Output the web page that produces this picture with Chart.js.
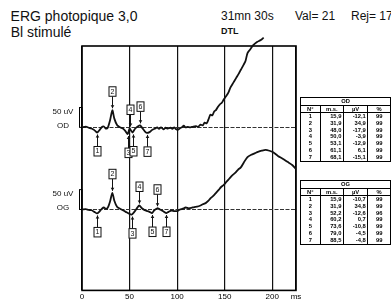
<!DOCTYPE html>
<html><head><meta charset="utf-8">
<script src="https://cdn.jsdelivr.net/npm/chart.js"></script>
<style>
html,body{margin:0;padding:0;background:#fff;}
body{width:391px;height:305px;position:relative;overflow:hidden;font-family:"Liberation Sans",Arial,sans-serif;color:#111;}
.tx{position:absolute;white-space:nowrap;line-height:1;}
canvas{position:absolute;left:0;top:0;}
table.t{position:absolute;border-collapse:collapse;table-layout:fixed;font:bold 5.8px "Liberation Sans",Arial,sans-serif;color:#000;border:1.5px solid #000;}
table.t td{padding:0 1.5px;height:6.8px;line-height:6.8px;overflow:hidden;white-space:nowrap;border-left:1px solid #000;border-right:1px solid #000;text-align:right;}
table.t tr.h td{border-bottom:1.2px solid #000;text-align:center;height:6.5px;line-height:6.5px;}
table.t td.c{text-align:center;}
</style></head>
<body>
<div class="tx" style="left:10.6px;top:9px;font-size:14px;">ERG photopique 3,0</div>
<div class="tx" style="left:10.7px;top:25px;font-size:14px;">Bl stimulé</div>
<div class="tx" style="left:221px;top:10px;font-size:12px;">31mn 30s</div>
<div class="tx" style="left:295px;top:10px;font-size:12px;">Val= 21</div>
<div class="tx" style="left:351px;top:10px;font-size:12px;">Rej= 17</div>
<div class="tx" style="left:221px;top:27.4px;font-size:9px;font-weight:bold;">DTL</div>
<canvas id="c" width="391" height="305"></canvas>
<table class="t" id="tOD" style="left:300px;top:97px;"></table>
<table class="t" id="tOG" style="left:300px;top:180px;"></table>
<script>
// ---- data ----
const xTickValues = [0, 50, 100, 150, 200, 225];
const xTickLabels = ['0', '50', '100', '150', '200', 'ms'];

const odMs = [0,4,7,10,13,15.9,18,21,23,25,27,29.5,31.9,34,37,40,43,45.5,48,50,51.5,53.1,56,59,61.1,63.5,66,68.1,71,74,77,79,81,83,86,88,90,93,95,97,99,101,103,105,107,109,111,114,117,120,122,124.6,127,129,131,133,135,137,139,141,143,145,147,149,152,154,156,159,162,165,167,170,172,174,177,180,184,188,191];
const odUv = [0,2,-1,-3,-7,-13,-8,1,2,-3,-1,18,43,22,5,0,-3,-9,-17,-3,-8,-13,-3,3,5,-2,-10,-14,-12,-6,-3,0,-4,0,-5,-1,-3,-1,-4,0,-5,-6,-2,0,4,0,1,0,2,3,1,7,5,12,10,20,32,30,40,44,52,58,62,70,80,88,100,112,124,136,145,158,168,187,197,207,215,220,226];

const ogMs = [0,4,7,10,13,15.9,18,21,23,25,27,29.5,31.9,34,37,40,43,46,49,52.2,55,58,60.2,63,66,69,71,73.6,76,79,82,85,88.5,91,94,97,100,103,106,109,112,115,118,121,124.6,127,130,133,135,138,141,144,146,149,152,155,158,161,164,167,170,174,178,182,185,189,193,197,201,206,211,216,221,225];
const ogUv = [0,1,-1,-2,-6,-10,-6,2,5,2,4,20,42,22,6,2,-2,-6,-10,-13,-6,4,10,3,-2,-4,-6,-9,-2,3,0,-4,-9,-6,-3,-4,-4,0,2,5,3,4,6,7,10,13,16,22,28,34,42,50,56,62,70,78,86,92,100,106,118,132,138,142,145,148,150,148,144,135,128,120,112,102];

const markNum = [1, 2, 3, 4, 5, 6, 7];
const odMarkMs = [15.9, 31.9, 48.0, 50.0, 53.1, 61.1, 68.1];
const odMarkUv = [-13, 43, -17, -3, -13, 5, -14];
const ogMarkMs = [15.9, 31.9, 52.2, 60.2, 73.6, 79.0, 88.5];
const ogMarkUv = [-10, 42, -13, 10, -9, 3, -9];

const odTabMs = [15.9, 31.9, 48.0, 50.0, 53.1, 61.1, 68.1];
const odTabUv = [-12.1, 34.9, -17.9, -3.9, -12.9, 6.1, -15.1];
const odTabPct = [99, 99, 99, 99, 99, 99, 99];
const ogTabMs = [15.9, 31.9, 52.2, 60.2, 73.6, 79.0, 88.5];
const ogTabUv = [-10.7, 34.8, -12.6, 0.7, -10.8, -4.5, -4.8];
const ogTabPct = [99, 99, 96, 99, 99, 99, 99];

const scaleBarUv = 50;
const odAxis = {min: -411, max: 205};
const ogAxis = {min: -204, max: 412};

// ---- tables ----
const fmt = v => v.toFixed(1).replace('.', ',');
function buildTable(id, title, ms, uv, pct) {
  const t = document.getElementById(id);
  let h = '<colgroup><col style="width:23px"><col style="width:26px"><col style="width:27px"><col style="width:27px"></colgroup>';
  h += '<tr class="h"><td colspan="4">' + title + '</td></tr>';
  h += '<tr class="h"><td>N°</td><td>m.s.</td><td>µV</td><td>%</td></tr>';
  ms.forEach((m, i) => {
    h += '<tr><td class="c">' + markNum[i] + '</td><td>' + fmt(m) + '</td><td>' + fmt(uv[i]) + '</td><td class="c">' + pct[i] + '</td></tr>';
  });
  t.innerHTML = h;
}
buildTable('tOD', 'OD', odTabMs, odTabUv, odTabPct);
buildTable('tOG', 'OG', ogTabMs, ogTabUv, ogTabPct);

// ---- plugins ----
const decor = {
  id: 'decor',
  beforeDatasetsDraw(chart) {
    const ctx = chart.ctx, a = chart.chartArea;
    ctx.save();
    ctx.strokeStyle = '#333'; ctx.lineWidth = 1; ctx.setLineDash([4, 1.5]);
    ['yOD', 'yOG'].forEach(id => {
      const y = Math.round(chart.scales[id].getPixelForValue(0)) + 0.5;
      ctx.beginPath(); ctx.moveTo(a.left, y); ctx.lineTo(a.right, y); ctx.stroke();
    });
    ctx.setLineDash([]);
    ctx.strokeStyle = '#000'; ctx.lineWidth = 1.6;
    ctx.strokeRect(a.left, a.top, a.right - a.left, a.bottom - a.top);
    ctx.fillStyle = '#111'; ctx.font = '8px "Liberation Sans", Arial, sans-serif';
    ctx.textAlign = 'center'; ctx.textBaseline = 'middle';
    [['yOD', 'OD'], ['yOG', 'OG']].forEach(([id, name]) => {
      const s = chart.scales[id];
      const y0 = s.getPixelForValue(0), y1 = s.getPixelForValue(scaleBarUv);
      ctx.lineWidth = 1;
      ctx.strokeRect(79.5, y1, a.left - 79.5, y0 - y1);
      ctx.fillText(scaleBarUv + ' uV', 63, y1 + 4);
      ctx.fillText(name, 63, y0 - 1.5);
    });
    ctx.restore();
  },
  afterDatasetsDraw(chart) {
    const ctx = chart.ctx, xs = chart.scales.x;
    ctx.save();
    ctx.strokeStyle = '#111'; ctx.fillStyle = '#111'; ctx.lineWidth = 1;
    ctx.font = '7px "Liberation Sans", Arial, sans-serif';
    ctx.textAlign = 'center'; ctx.textBaseline = 'middle';
    [[odMarkMs, odMarkUv, 'yOD'], [ogMarkMs, ogMarkUv, 'yOG']].forEach(([ms, uv, id]) => {
      const ys = chart.scales[id];
      ms.forEach((m, i) => {
        const px = Math.round(xs.getPixelForValue(m)) + 0.5;
        const py = ys.getPixelForValue(uv[i]);
        const up = markNum[i] % 2 === 0;
        const dir = up ? -1 : 1;
        const tip = py + dir * 2, base = py + dir * 14;
        ctx.beginPath(); ctx.moveTo(px, base); ctx.lineTo(px, tip); ctx.stroke();
        ctx.beginPath(); ctx.moveTo(px, tip); ctx.lineTo(px - 1.8, tip + dir * 3); ctx.lineTo(px + 1.8, tip + dir * 3); ctx.closePath(); ctx.fill();
        const bt = up ? base - 9.5 : base;
        ctx.fillStyle = '#fff'; ctx.fillRect(px - 3.5, bt, 7, 9.5); ctx.fillStyle = '#111';
        ctx.strokeRect(px - 3.5, bt, 7, 9.5);
        ctx.fillText(String(markNum[i]), px, bt + 5);
      });
    });
    ctx.restore();
  }
};

const pts = (xs, ys) => xs.map((x, i) => ({x, y: ys[i]}));

new Chart(document.getElementById('c'), {
  type: 'line',
  data: {
    datasets: [
      {label: 'OD', data: pts(odMs, odUv), yAxisID: 'yOD', borderColor: '#111', borderWidth: 1.8, pointRadius: 0, tension: 0.25, clip: {left: 0, top: 10, right: 0, bottom: 0}},
      {label: 'OG', data: pts(ogMs, ogUv), yAxisID: 'yOG', borderColor: '#111', borderWidth: 1.8, pointRadius: 0, tension: 0.25}
    ]
  },
  options: {
    responsive: false, animation: false, devicePixelRatio: 1,
    layout: {padding: {left: 82, right: 95, top: 46, bottom: 1}},
    plugins: {legend: {display: false}, tooltip: {enabled: false}},
    scales: {
      x: {
        type: 'linear', min: 0, max: 225,
        afterBuildTicks: s => { s.ticks = xTickValues.map(v => ({value: v})); },
        ticks: {autoSkip: false, maxRotation: 0, padding: 2, color: '#000',
          font: {size: 8, family: '"Liberation Sans", Arial, sans-serif'},
          callback: (v, i) => xTickLabels[i]},
        grid: {color: '#111', lineWidth: 1.2, drawTicks: false},
        border: {display: false}
      },
      yOD: {type: 'linear', display: false, min: odAxis.min, max: odAxis.max},
      yOG: {type: 'linear', display: false, min: ogAxis.min, max: ogAxis.max}
    }
  },
  plugins: [decor]
});
</script>
</body></html>
